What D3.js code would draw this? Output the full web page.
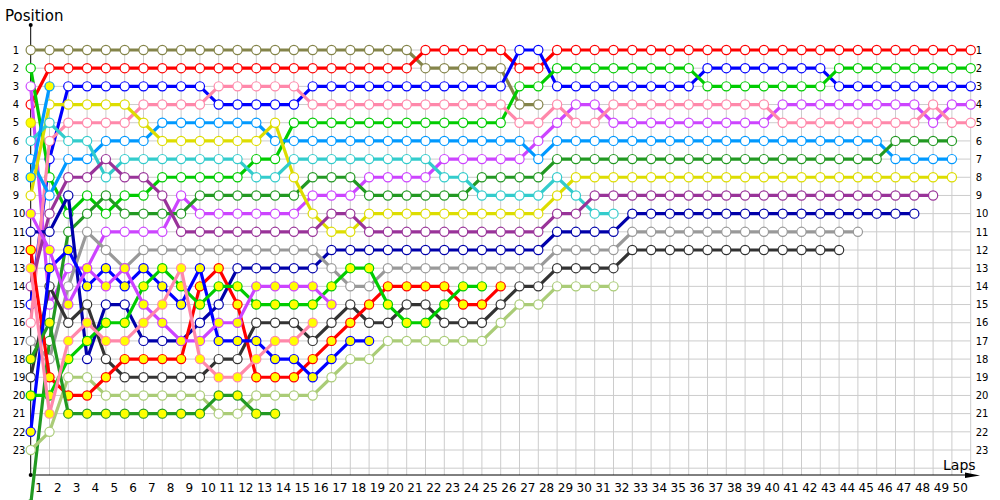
<!DOCTYPE html>
<html>
<head>
<meta charset="utf-8">
<script src="https://cdn.jsdelivr.net/npm/d3@7"></script>
<style>
  body { margin: 0; background: #fff; }
  text { font-family: "DejaVu Sans", Verdana, sans-serif; }
</style>
</head>
<body>
<div id="chart"></div>
<script>
var width = 1000, height = 500;

var lapTicks = d3.range(1, 51);
var positionTicks = d3.range(1, 24);

// position of each car, index = lap (0 = starting grid)
var olive      = [1,1,1,1,1,1,1,1,1,1,1,1,1,1,1,1,1,1,1,1,1,2,2,2,2,2,4,4];
var red        = [4,2,2,2,2,2,2,2,2,2,2,2,2,2,2,2,2,2,2,2,2,1,1,1,1,1,2,2,1,1,1,1,1,1,1,1,1,1,1,1,1,1,1,1,1,1,1,1,1,1,1];
var blue       = [15,7,3,3,3,3,3,3,3,3,4,4,4,4,4,3,3,3,3,3,3,3,3,3,3,3,1,1,3,3,3,3,3,3,3,3,2,2,2,2,2,2,2,3,3,3,3,3,3,3,3];
var green      = [2,8,10,9,10,9,9,8,8,8,8,8,7,7,5,5,5,5,5,5,5,5,5,5,5,5,3,3,2,2,2,2,2,2,2,2,3,3,3,3,3,3,3,2,2,2,2,2,2,2,2];
var magenta    = [3,15,13,13,11,11,11,11,9,10,10,10,10,10,10,9,9,9,8,8,8,8,7,7,7,7,7,6,5,4,4,5,5,5,5,5,5,5,5,5,4,4,4,4,4,4,4,4,5,4,4];
var pink       = [16,6,5,5,5,5,4,4,4,4,3,3,3,3,3,4,4,4,4,4,4,4,4,4,4,4,5,5,4,5,5,4,4,4,4,4,4,4,4,4,5,5,5,5,5,5,5,5,4,5,5];
var lightBlue  = [7,9,7,7,6,6,6,5,5,5,5,5,5,6,6,6,6,6,6,6,6,6,6,6,6,6,6,7,6,6,6,6,6,6,6,6,6,6,6,6,6,6,6,6,6,6,7,7,7,7];
var darkGreen  = [26,17,11,10,9,10,10,10,10,9,9,9,9,9,9,8,8,8,9,9,9,9,9,9,8,8,8,8,7,7,7,7,7,7,7,7,7,7,7,7,7,7,7,7,7,7,6,6,6,6];
var yellow     = [9,4,4,4,4,4,5,6,6,6,6,6,6,5,8,10,11,11,10,10,10,10,10,10,10,10,10,10,9,8,8,8,8,8,8,8,8,8,8,8,8,8,8,8,8,8,8,8,8,8];
var cyan       = [6,5,6,6,8,7,7,7,7,7,7,7,8,8,7,7,7,7,7,7,7,7,8,8,9,9,9,9,8,9,10,10];
var purple     = [14,10,8,8,7,8,8,9,11,11,11,11,11,11,11,11,10,10,11,11,11,11,11,11,11,11,11,11,10,10,9,9,9,9,9,9,9,9,9,9,9,9,9,9,9,9,9,9,9];
var darkBlue   = [11,11,9,18,15,15,17,17,17,16,15,13,13,13,13,13,12,12,12,12,12,12,12,12,12,12,12,12,11,11,11,11,10,10,10,10,10,10,10,10,10,10,10,10,10,10,10,10];
var grey       = [17,18,14,11,12,13,12,12,12,12,12,12,12,12,12,12,13,14,14,13,13,13,13,13,13,13,13,13,12,12,12,12,11,11,11,11,11,11,11,11,11,11,11,11,11];
var darkGrey   = [19,14,16,15,18,19,19,19,19,19,18,18,16,16,16,17,16,15,16,16,15,15,16,16,16,15,14,14,13,13,13,13,12,12,12,12,12,12,12,12,12,12,12,12];
var lightGreen = [23,22,19,19,20,20,20,20,20,20,21,21,20,20,20,20,19,18,18,17,17,17,17,17,17,16,15,15,14,14,14,14];
var redB       = [12,19,20,20,19,18,18,18,18,14,13,15,19,19,19,18,17,16,15,14,14,14,14,15,15,14];
var blueB      = [22,13,12,14,13,14,13,14,15,13,17,17,17,18,18,19,18,17,17];
var greenB     = [20,20,18,17,16,16,14,13,14,15,14,14,15,15,15,15,14,13,13,15,16,16,15,14,14];
var darkGreenB = [18,16,21,21,21,21,21,21,21,21,20,20,21,21];
var magentaB   = [10,12,15,13,14,13,15,16,17,17,16,16,14,14,14,14,15];
var pinkB      = [13,21,17,16,17,17,16,15,13,18,19,19,18,17,17,16];
var lightBlueB = [8,3];
var yellowB    = [5];

var cars = [olive, red, blue, green, magenta, pink, lightBlue, darkGreen, yellow, cyan, purple,
            darkBlue, grey, darkGrey, lightGreen, redB, blueB, greenB, darkGreenB, magentaB,
            pinkB, lightBlueB, yellowB];

// styling per car (same order as cars)
var carColors = ["#84844a", "#ff0000", "#0000ff", "#00cc00", "#cc44ff", "#ff88aa", "#0099ff",
                 "#229922", "#dddd00", "#33cccc", "#993399", "#0000aa", "#999999", "#333333",
                 "#aacc77", "#ff0000", "#0000ff", "#00cc00", "#229922", "#cc44ff", "#ff88aa",
                 "#0099ff", "#dddd00"];
var carFilled = [0,0,0,0,0,0,0,0,0,0,0,0,0,0,0,1,1,1,1,1,1,1,1];

var x = d3.scaleLinear().domain([0, 50]).range([30.7, 970.7]);
var y = d3.scaleLinear().domain([1, 23]).range([50, 450]);

var svg = d3.select("#chart").append("svg")
    .attr("width", width)
    .attr("height", height);

// grid
var grid = svg.append("g").attr("stroke", "#cccccc").attr("stroke-width", 1);
grid.selectAll(".vgrid")
    .data(lapTicks)
  .enter().append("line")
    .attr("x1", function(d) { return x(d); })
    .attr("x2", function(d) { return x(d); })
    .attr("y1", y(0.75))
    .attr("y2", 475);
grid.selectAll(".hgrid")
    .data(d3.range(1, 25))
  .enter().append("line")
    .attr("x1", x(0))
    .attr("x2", x(50))
    .attr("y1", function(d) { return y(d); })
    .attr("y2", function(d) { return y(d); });

// axes
var leftAxis = svg.append("g")
    .attr("transform", "translate(" + x(0) + ",0)")
    .call(d3.axisLeft(y).tickValues(positionTicks).tickSize(0).tickFormat(d3.format("d")));
leftAxis.selectAll("text").attr("text-anchor", "start").attr("x", -18).attr("font-size", 10).attr("fill", "#000");

var rightAxis = svg.append("g")
    .attr("transform", "translate(" + x(50) + ",0)")
    .call(d3.axisRight(y).tickValues(positionTicks).tickSize(0).tickPadding(5).tickFormat(d3.format("d")));
rightAxis.selectAll("text").attr("font-size", 10).attr("fill", "#000");

var bottomAxis = svg.append("g")
    .attr("transform", "translate(0,475)")
    .call(d3.axisBottom(x).tickValues(lapTicks).tickSize(0).tickPadding(8).tickFormat(d3.format("d")));
bottomAxis.selectAll("text").attr("dx", -11).attr("font-size", 12).attr("fill", "#000");

svg.selectAll(".domain").remove();

svg.append("line")
    .attr("x1", x(0)).attr("x2", x(0))
    .attr("y1", 475).attr("y2", 25)
    .attr("stroke", "#000").attr("stroke-width", 1);
svg.append("line")
    .attr("x1", x(0)).attr("x2", 972)
    .attr("y1", 475).attr("y2", 475)
    .attr("stroke", "#000").attr("stroke-width", 1);
svg.append("path")
    .attr("d", "M965,472.5 L980,475.5 L965,478 Z")
    .attr("fill", "#000");
svg.append("circle").attr("cx", x(0)).attr("cy", 25).attr("r", 2).attr("fill", "#000");
svg.append("circle").attr("cx", x(0)).attr("cy", 475).attr("r", 2).attr("fill", "#000");

svg.append("text").attr("x", 5).attr("y", 21).attr("font-size", 15).text("Position");
svg.append("text").attr("x", 943).attr("y", 470).attr("font-size", 14).text("Laps");

// lap chart
var line = d3.line()
    .defined(function(d) { return d != null; })
    .x(function(d, i) { return x(i); })
    .y(function(d) { return y(d); });

var car = svg.append("g").selectAll(".car")
    .data(cars)
  .enter().append("g")
    .attr("class", "car");

car.append("path")
    .attr("d", function(d) { return line(d); })
    .attr("fill", "none")
    .attr("stroke", function(d, i) { return carColors[i]; })
    .attr("stroke-width", 3.2)
    .attr("stroke-linejoin", "round");

car.each(function(d, i) {
    d3.select(this).selectAll("circle")
        .data(d)
      .enter().append("circle")
        .attr("cx", function(p, lap) { return x(lap); })
        .attr("cy", function(p) { return y(p); })
        .attr("r", 4.6)
        .attr("fill", carFilled[i] ? "#ffff00" : "#ffffff")
        .attr("stroke", carColors[i])
        .attr("stroke-width", 1.2);
});
</script>
</body>
</html>
